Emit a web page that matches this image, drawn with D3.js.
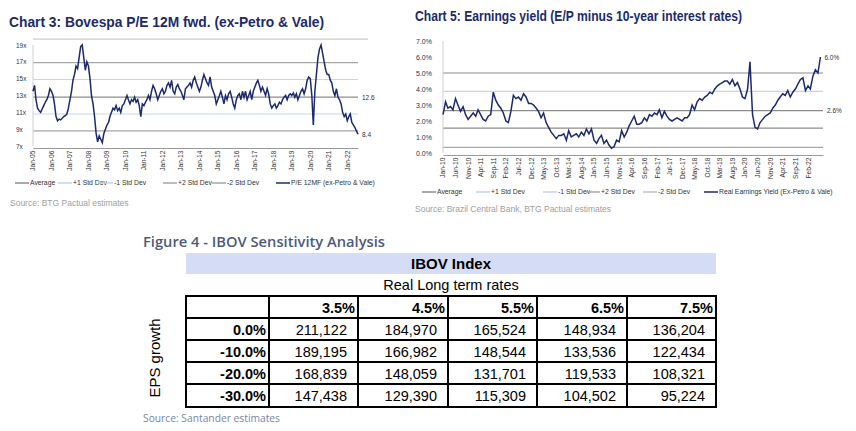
<!DOCTYPE html>
<html>
<head>
<meta charset="utf-8">
<script src="https://cdn.jsdelivr.net/npm/d3@7"></script>
<style>
  body { margin: 0; background: #fff; }
  svg { display: block; font-family: "Liberation Sans", Arial, sans-serif; }
</style>
</head>
<body>
<svg id="chart" width="856" height="431"></svg>
<script>
// ---- Chart 3 data: monthly P/E, Jan-05 .. Aug-22
const peValues = [
  13.5,14.2,12.5,11.5,11.2,11.0,11.4,11.8,12.2,12.5,13.0,13.8,
  13.5,13.0,12.0,10.5,10.0,10.2,10.1,10.3,10.5,10.6,10.8,11.5,
  12.5,13.5,14.8,15.5,16.5,16.2,17.5,18.8,19.0,17.5,16.0,17.0,
  16.5,15.0,13.0,12.0,10.5,8.5,7.5,8.2,7.8,7.4,8.5,9.0,
  9.5,9.8,10.5,11.0,11.5,11.3,11.8,11.2,11.5,11.0,11.8,12.0,
  12.5,13.0,12.5,12.0,12.5,12.3,12.8,12.2,12.5,11.8,10.5,12.0,
  11.8,12.2,12.5,13.0,12.5,13.5,14.2,13.8,13.2,12.5,13.0,13.5,
  13.8,13.2,13.5,14.2,14.5,14.0,14.8,13.5,13.2,14.0,14.3,13.8,
  13.5,13.0,12.5,13.8,14.0,14.2,14.5,14.0,14.8,15.2,14.5,14.0,
  13.5,14.0,14.8,15.5,15.0,14.5,14.2,15.2,14.0,13.5,13.0,12.0,
  12.5,13.0,13.5,12.8,12.0,13.0,12.5,13.2,13.5,12.8,12.0,11.5,
  12.5,13.0,13.2,12.5,13.5,12.8,13.5,12.5,13.0,13.5,12.5,13.5,
  14.0,14.5,14.8,14.2,13.5,14.0,13.5,13.0,13.8,13.2,12.0,11.5,
  11.8,12.0,11.5,11.8,12.2,12.0,12.5,12.8,13.0,12.5,13.0,13.2,
  13.0,13.3,12.8,13.2,12.5,13.0,13.5,13.8,13.2,13.8,14.8,15.2,
  15.0,13.0,9.5,13.5,15.5,17.5,18.5,19.0,18.0,17.0,16.0,15.5,
  15.5,14.8,14.5,13.5,13.0,13.8,12.8,12.5,12.0,11.0,10.5,10.8,
  10.0,10.5,10.8,9.8,9.5,9.2,8.8,8.4
];
const peBands = [
  { name: "Average", value: 12.8, color: "#8c8c8c" },
  { name: "+1 Std Dev", value: 14.9, color: "#c5d5ec" },
  { name: "-1 Std Dev", value: 10.8, color: "#c5d5ec" },
  { name: "+2 Std Dev", value: 16.9, color: "#a6a6a6" },
  { name: "-2 Std Dev", value: 8.8, color: "#a6a6a6" }
];
const peTicks = [7, 9, 11, 13, 15, 17, 19];
const peLabels = ["12.6", "8.4"];

// ---- Chart 5 data: monthly real earnings yield (%), Jan-10 .. Jul-22
const eyValues = [
  2.4,3.2,2.8,2.9,2.7,3.4,3.0,2.6,2.9,2.4,2.1,2.3,
  2.5,2.3,2.7,2.4,2.1,2.0,2.3,2.4,3.8,3.3,3.0,2.8,
  2.5,2.0,1.9,2.6,3.6,3.4,3.5,3.3,3.7,3.5,3.1,3.1,
  3.0,2.8,2.6,2.2,2.5,1.9,1.6,1.3,1.1,0.9,1.1,1.1,
  1.2,0.8,1.4,1.0,1.1,1.2,1.0,1.3,1.1,1.5,1.2,1.5,
  0.8,0.6,0.9,1.1,0.6,0.8,0.5,0.3,0.4,0.8,0.7,1.4,
  1.0,1.3,1.7,2.0,2.3,1.8,1.8,1.9,2.2,2.0,2.4,2.3,
  2.5,2.4,2.7,2.2,2.6,2.3,2.1,2.0,2.1,2.2,2.1,2.0,
  2.2,2.2,2.4,3.0,2.7,3.2,3.4,3.3,3.5,3.6,3.8,3.7,
  4.0,4.2,4.3,4.4,4.5,4.5,4.3,4.6,4.2,4.4,4.0,3.5,
  3.4,4.0,5.7,2.4,1.6,1.5,1.9,2.1,2.3,2.4,2.5,2.8,
  3.0,3.3,3.5,3.7,3.6,3.9,3.5,3.8,4.0,4.3,4.6,4.7,
  3.9,4.2,4.0,4.8,5.2,5.0,6.0
];
const eyBands = [
  { name: "Average", value: 2.65, color: "#8c8c8c" },
  { name: "+1 Std Dev", value: 3.85, color: "#c5d5ec" },
  { name: "-1 Std Dev", value: 1.55, color: "#8c8c8c" },
  { name: "+2 Std Dev", value: 5.0, color: "#8c8c8c" },
  { name: "-2 Std Dev", value: 0.35, color: "#a6a6a6" }
];
const eyLegendColors = ["#8c8c8c", "#c5d5ec", "#c5d5ec", "#a6a6a6", "#c0c0c0"];
const eyTicks = [0, 1, 2, 3, 4, 5, 6, 7];
const eyLabels = ["2.6%", "6.0%"];

// ---- Figure 4 table
const rateHeaders = ["3.5%", "4.5%", "5.5%", "6.5%", "7.5%"];
const epsGrowth = ["0.0%", "-10.0%", "-20.0%", "-30.0%"];
const ibovValues = [
  [211122, 184970, 165524, 148934, 136204],
  [189195, 166982, 148544, 133536, 122434],
  [168839, 148059, 131701, 119533, 108321],
  [147438, 129390, 115309, 104502, 95224]
];

const svg = d3.select("#chart");
const navy = "#1c2a6b";

function lineChart(o) {
  const g = svg.append("g");
  const dates = o.values.map((v, i) => d3.timeMonth.offset(o.start, i));
  const x = d3.scaleTime().domain([o.start, o.end]).range([o.left, o.right]);
  const y = d3.scaleLinear().domain(o.yDomain).range([o.bottom, o.top]);

  g.append("text").attr("x", o.titleX).attr("y", o.titleY)
    .attr("font-size", 14).attr("font-weight", "bold").attr("fill", navy)
    .attr("textLength", o.titleW).attr("lengthAdjust", "spacingAndGlyphs").text(o.title);

  if (o.topLine) {
    g.append("line").attr("x1", o.left).attr("x2", o.right + 10)
      .attr("y1", y(o.topLine)).attr("y2", y(o.topLine)).attr("stroke", "#bfbfbf");
  }

  // std bands
  o.bands.forEach(b => {
    g.append("line").attr("x1", o.left).attr("x2", o.right)
      .attr("y1", y(b.value)).attr("y2", y(b.value))
      .attr("stroke", b.color).attr("stroke-width", 1.2);
  });

  // y axis labels
  g.selectAll(".yt").data(o.yTicks).join("text")
    .attr("x", o.yLabelX).attr("y", d => y(d) + 2.5)
    .attr("font-size", o.yFont).attr("fill", "#333").text(o.yFormat);

  g.append("line").attr("x1", o.left).attr("x2", o.left)
    .attr("y1", y(o.yDomain[0])).attr("y2", y(o.yDomain[1])).attr("stroke", "#d0d0d0");

  // x axis
  const xAxis = d3.axisBottom(x).tickValues(o.xTicks).tickFormat(d3.timeFormat("%b-%y")).tickSize(0);
  const ax = g.append("g").attr("transform", `translate(0,${o.bottom + 2})`).call(xAxis);
  ax.select(".domain").attr("stroke", "#999");
  ax.selectAll("text").attr("font-size", 6.6).attr("fill", "#333")
    .attr("font-family", "Liberation Sans, Arial")
    .attr("transform", "rotate(-90)").attr("text-anchor", "end")
    .attr("dx", "-0.4em").attr("dy", "0.3em").attr("y", 0).attr("x", 0);

  // main series
  const line = d3.line().x((d, i) => x(dates[i])).y(d => y(d));
  g.append("path").datum(o.values).attr("d", line)
    .attr("fill", "none").attr("stroke", navy).attr("stroke-width", 1.5);

  // value labels
  g.append("text").attr("x", o.right + 4).attr("y", y(o.bands[0].value) + 2.5)
    .attr("font-size", 6.5).attr("fill", "#333").text(o.labels[0]);
  const last = o.values[o.values.length - 1];
  g.append("text").attr("x", x(dates[dates.length - 1]) + 4).attr("y", y(last) + 2.5)
    .attr("font-size", 6.5).attr("fill", "#333").text(o.labels[1]);

  // legend
  const items = o.bands.map((b, i) => ({ name: b.name, color: o.legendColors ? o.legendColors[i] : b.color }))
    .concat([{ name: o.seriesName, color: navy }]);
  items.forEach((it, i) => {
    const lx = o.legendX[i];
    g.append("line").attr("x1", lx).attr("x2", lx + 14).attr("y1", o.legendY).attr("y2", o.legendY)
      .attr("stroke", it.color).attr("stroke-width", 1.5);
    g.append("text").attr("x", lx + 15).attr("y", o.legendY + 2.4)
      .attr("font-size", 6.8).attr("fill", "#333").text(it.name);
  });

  g.append("text").attr("x", o.sourceX).attr("y", o.sourceY)
    .attr("font-size", 8.5).attr("fill", "#a0a0a0").text(o.source);
}

lineChart({
  title: "Chart 3: Bovespa P/E 12M fwd. (ex-Petro & Vale)", titleX: 9, titleY: 27, titleW: 315,
  values: peValues, start: new Date(2005, 0, 1), end: new Date(2022, 7, 1),
  left: 33, right: 358, top: 45, bottom: 146, yDomain: [7, 19], topLine: 19.7,
  yTicks: peTicks, yFormat: d => d + "x", yFont: 6.5, yLabelX: 16,
  xTicks: d3.range(2005, 2023).map(yr => new Date(yr, 0, 1)),
  bands: peBands, labels: peLabels, seriesName: "P/E 12MF (ex-Petro & Vale)",
  legendX: [15, 58, 99, 163, 212, 276], legendY: 183,
  source: "Source: BTG Pactual estimates", sourceX: 10, sourceY: 206
});

lineChart({
  title: "Chart 5: Earnings yield (E/P minus 10-year interest rates)", titleX: 415, titleY: 21, titleW: 327,
  values: eyValues, start: new Date(2010, 0, 1), end: new Date(2022, 7, 1),
  left: 443, right: 823, top: 41, bottom: 153, yDomain: [0, 7], topLine: null,
  yTicks: eyTicks, yFormat: d => d.toFixed(1) + "%", yFont: 7, yLabelX: 416,
  xTicks: d3.range(0, 150, 5).map(m => d3.timeMonth.offset(new Date(2010, 0, 1), m)),
  bands: eyBands, legendColors: eyLegendColors,
  labels: eyLabels, seriesName: "Real Earnings Yield (Ex-Petro & Vale)",
  legendX: [422, 476, 543, 586, 643, 704], legendY: 192,
  source: "Source: Brazil Central Bank, BTG Pactual estimates", sourceX: 415, sourceY: 212
});

// ---- Table
const tg = svg.append("g");
const colX = [186, 269, 358, 448, 537, 627, 716];
const rowY = [296, 318, 340, 362, 384, 407];
const fmt = d3.format(",");

tg.append("text").attr("x", 143).attr("y", 247).attr("font-size", 15)
  .attr("font-family", "Open Sans, DejaVu Sans").attr("font-weight", 600)
  .attr("fill", "#4d5a7c").attr("textLength", 242).attr("lengthAdjust", "spacingAndGlyphs")
  .text("Figure 4 - IBOV Sensitivity Analysis");

tg.append("rect").attr("x", 186).attr("y", 253).attr("width", 530).attr("height", 21).attr("fill", "#d5dcf5");
tg.append("text").attr("x", 451).attr("y", 269).attr("text-anchor", "middle")
  .attr("font-size", 15).attr("font-weight", "bold").text("IBOV Index");
tg.append("text").attr("x", 451).attr("y", 290).attr("text-anchor", "middle")
  .attr("font-size", 14.5).text("Real Long term rates");

// header row
tg.selectAll(".hd").data(rateHeaders).join("text")
  .attr("x", (d, i) => colX[i + 2] - 3).attr("y", rowY[0] + 16.5).attr("text-anchor", "end")
  .attr("font-size", 14.5).attr("font-weight", "bold").text(d => d);
tg.selectAll(".rl").data(epsGrowth).join("text")
  .attr("x", colX[1] - 3).attr("y", (d, i) => rowY[i + 1] + 16.5).attr("text-anchor", "end")
  .attr("font-size", 14.5).attr("font-weight", "bold").text(d => d);
ibovValues.forEach((row, r) => {
  tg.selectAll(".r" + r).data(row).join("text")
    .attr("x", (d, i) => colX[i + 2] - 11).attr("y", rowY[r + 1] + 16.5).attr("text-anchor", "end")
    .attr("font-size", 14.5).text(d => fmt(d));
});

// borders
colX.forEach(cx => tg.append("line").attr("x1", cx).attr("x2", cx).attr("y1", rowY[0]).attr("y2", rowY[5])
  .attr("stroke", "#000").attr("stroke-width", 2));
rowY.forEach(ry => tg.append("line").attr("x1", colX[0] - 1).attr("x2", colX[6] + 1).attr("y1", ry).attr("y2", ry)
  .attr("stroke", "#000").attr("stroke-width", 2));

tg.append("text").attr("transform", "translate(160,358) rotate(-90)").attr("text-anchor", "middle")
  .attr("font-size", 15).text("EPS growth");

tg.append("text").attr("x", 143).attr("y", 422).attr("font-size", 11)
  .attr("font-family", "Open Sans, DejaVu Sans").attr("fill", "#7a86a3")
  .attr("textLength", 137).attr("lengthAdjust", "spacingAndGlyphs")
  .text("Source: Santander estimates");
</script>
</body>
</html>
